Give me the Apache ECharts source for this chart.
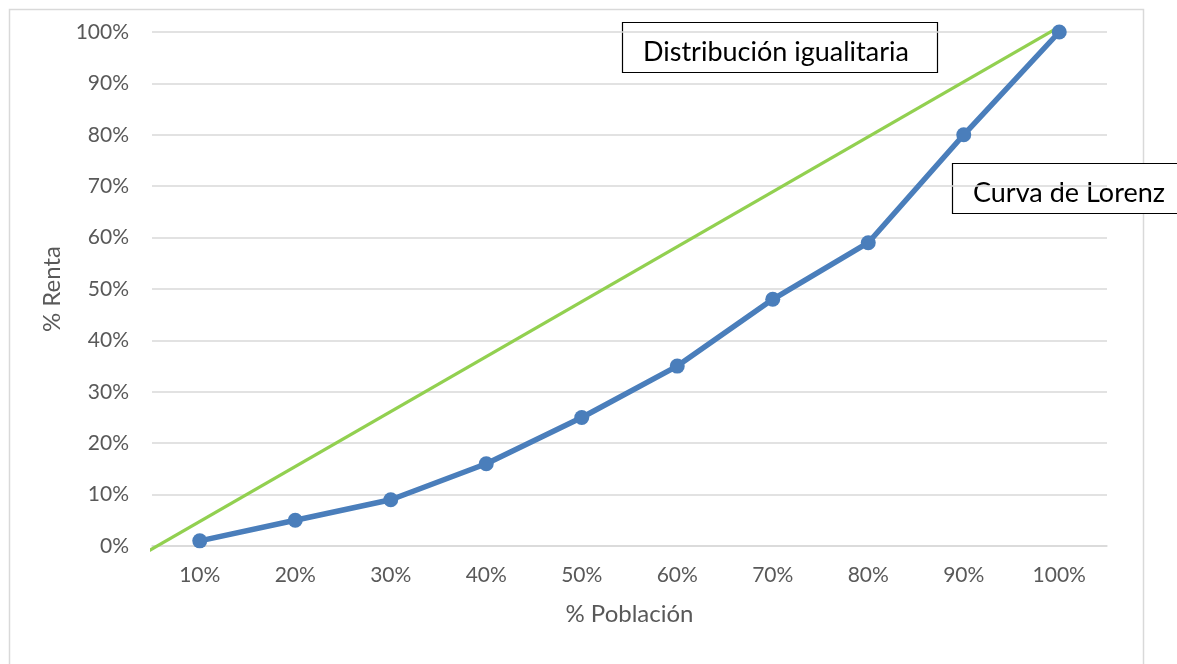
<!DOCTYPE html>
<html>
<head>
<meta charset="utf-8">
<script src="https://cdn.jsdelivr.net/npm/echarts@6/dist/echarts.min.js"></script>
<style>
  html, body { margin: 0; padding: 0; background: #fff; }
  #chart { width: 1177px; height: 664px; }
</style>
</head>
<body>
<div id="chart"></div>
<script>
// categorías del eje X (% población)
const categories = ['10%', '20%', '30%', '40%', '50%', '60%', '70%', '80%', '90%', '100%'];
// curva de Lorenz (% renta acumulada)
const lorenz = [1, 5, 9, 16, 25, 35, 48, 59, 80, 100];
// recta de distribución igualitaria [x %, y %]
const equality = [[4.6, -1], [100, 101]];

const FONT = 'Lato, "Open Sans", sans-serif';
const chart = echarts.init(document.getElementById('chart'), null, { renderer: 'canvas' });

chart.setOption({
  backgroundColor: '#FFFFFF',
  animation: false,
  textStyle: { fontFamily: FONT },
  grid: { left: 152, right: 70, top: 32, bottom: 118 },
  xAxis: [
    {
      type: 'category', data: categories, boundaryGap: true,
      name: '% Población', nameLocation: 'middle', nameGap: 56,
      nameTextStyle: { color: '#595959', fontSize: 24, fontFamily: FONT },
      axisLine: { lineStyle: { color: '#D9D9D9', width: 1.5 } },
      axisTick: { show: false },
      axisLabel: { color: '#595959', fontSize: 21, margin: 19, fontFamily: FONT }
    },
    {
      // eje auxiliar oculto para la recta de igualdad
      type: 'value', min: 5, max: 105, show: false
    }
  ],
  yAxis: {
    type: 'value', min: 0, max: 100, interval: 10,
    name: '% Renta', nameLocation: 'middle', nameGap: 87, nameRotate: 90,
    nameTextStyle: { color: '#595959', fontSize: 24, fontFamily: FONT },
    axisLine: { show: false }, axisTick: { show: false },
    axisLabel: { color: '#595959', fontSize: 21, margin: 23, formatter: '{value}%', fontFamily: FONT },
    splitLine: { show: true, lineStyle: { color: '#D9D9D9', width: 1.5 } }
  },
  series: [
    {
      name: 'Distribución igualitaria', type: 'line', xAxisIndex: 1,
      data: equality, symbol: 'none', clip: false,
      lineStyle: { color: '#92D050', width: 3.3 }
    },
    {
      name: 'Curva de Lorenz', type: 'line', xAxisIndex: 0,
      data: lorenz, symbol: 'circle', symbolSize: 15,
      itemStyle: { color: '#4A7EBB' },
      lineStyle: { color: '#4A7EBB', width: 5.5 }
    }
  ],
  graphic: [
    {
      type: 'rect', left: 7, top: 7, silent: true,
      shape: { width: 1134, height: 680 },
      style: { fill: 'none', stroke: '#D9D9D9', lineWidth: 1.5 }
    },
    {
      type: 'group', x: 622, y: 22, children: [
        { type: 'rect', shape: { x: 0.5, y: 0.5, width: 315, height: 50 }, style: { fill: '#FFFFFF', stroke: '#000000', lineWidth: 1.2 } },
        { type: 'text', x: 21, y: 30, style: { text: 'Distribución igualitaria', fill: '#000000', font: '27px ' + FONT, verticalAlign: 'middle' } }
      ]
    },
    {
      type: 'group', x: 952, y: 163, children: [
        { type: 'rect', shape: { x: 0.5, y: 0.5, width: 240, height: 50 }, style: { fill: '#FFFFFF', stroke: '#000000', lineWidth: 1.2 } },
        { type: 'text', x: 21, y: 30, style: { text: 'Curva de Lorenz', fill: '#000000', font: '27px ' + FONT, verticalAlign: 'middle' } }
      ]
    }
  ]
});
</script>
</body>
</html>
